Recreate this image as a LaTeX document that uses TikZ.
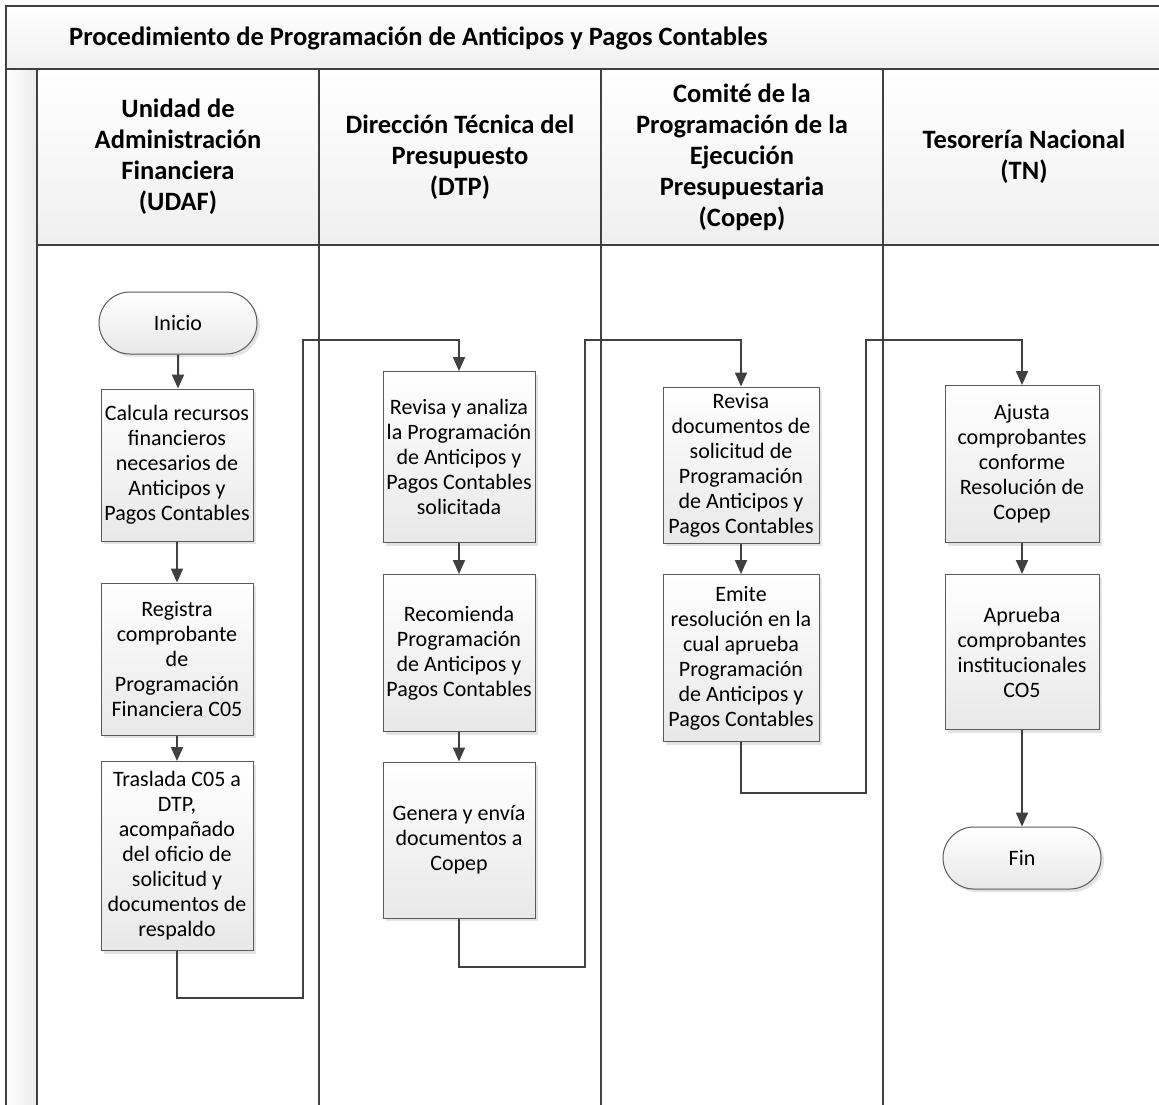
\documentclass[tikz,border=0pt]{standalone}
\usepackage{fontspec}
\setmainfont{Carlito}
\usetikzlibrary{arrows.meta,shapes.misc,shadows}

\definecolor{linegray}{HTML}{404040}
\definecolor{boxgray}{HTML}{5A5A5A}

\begin{document}
\begin{tikzpicture}
[x=1pt, y=-1pt,
 every node/.style={inner sep=0pt, align=center},
 step box/.style={rectangle, draw=boxgray, line width=1pt, top color=white, bottom color=black!9,
   drop shadow={shadow xshift=3pt, shadow yshift=-3pt, fill=black!18, opacity=.6},
   font=\fontsize{22}{25}\selectfont},
 endpoint/.style={rounded rectangle, draw=boxgray, line width=1pt, top color=white, bottom color=black!9,
   drop shadow={shadow xshift=3pt, shadow yshift=-3pt, fill=black!18, opacity=.6},
   minimum width=158pt, minimum height=62pt, font=\fontsize{22}{25}\selectfont},
 lanehead/.style={rectangle, draw=linegray, line width=1.2pt, top color=white, bottom color=black!6,
   minimum width=282pt, minimum height=176pt, font=\bfseries\fontsize{26.5}{31}\selectfont},
 lane/.style={draw=linegray, line width=1.2pt},
 flow/.style={draw=linegray, line width=2pt, -{Triangle[length=14pt, width=12pt]}}]
\useasboundingbox (0,0) rectangle (1159,1104);

% frame, title and lanes
\shade[top color=white, bottom color=black!6, draw=linegray, line width=1.2pt] (6,6) rectangle (1175,69);
\shade[left color=white, right color=black!8, draw=linegray, line width=1.2pt] (6,69) rectangle (37,1120);
\node (title) [anchor=west, font=\bfseries\fontsize{26.5}{31}\selectfont] at (69,38) {Procedimiento de Programación de Anticipos y Pagos Contables};
\node (udafh) [lanehead] at (178,157) {Unidad de\\Administración\\Financiera\\(UDAF)};
\node (dtph) [lanehead] at (460,157) {Dirección Técnica del\\Presupuesto\\(DTP)};
\node (copeph) [lanehead] at (742,157) {Comité de la\\Programación de la\\Ejecución\\Presupuestaria\\(Copep)};
\node (tnh) [lanehead] at (1024,157) {Tesorería Nacional\\(TN)};
\draw[lane] (37,245) -- (37,1120);
\draw[lane] (319,245) -- (319,1120);
\draw[lane] (601,245) -- (601,1120);
\draw[lane] (883,245) -- (883,1120);

% UDAF
\node (inicio) [endpoint] at (178,323) {Inicio};
\node (calcula) [step box, minimum width=152pt, minimum height=152pt] at (177,465) {Calcula recursos\\financieros\\necesarios de\\Anticipos y\\Pagos Contables};
\node (registra) [step box, minimum width=152pt, minimum height=152pt] at (177,659) {Registra\\comprobante\\de\\Programación\\Financiera C05};
\node (traslada) [step box, minimum width=152pt, minimum height=189pt] at (177,856) {Traslada C05 a\\DTP,\\acompañado\\del oficio de\\solicitud y\\documentos de\\respaldo};

% DTP
\node (revisa) [step box, minimum width=152pt, minimum height=171pt] at (459,457) {Revisa y analiza\\la Programación\\de Anticipos y\\Pagos Contables\\solicitada};
\node (recomienda) [step box, minimum width=152pt, minimum height=157pt] at (459,653) {Recomienda\\Programación\\de Anticipos y\\Pagos Contables};
\node (genera) [step box, minimum width=152pt, minimum height=156pt] at (459,840) {Genera y envía\\documentos a\\Copep};

% Copep
\node (revisadoc) [step box, minimum width=156pt, minimum height=156pt] at (741,465) {Revisa\\documentos de\\solicitud de\\Programación\\de Anticipos y\\Pagos Contables};
\node (emite) [step box, minimum width=156pt, minimum height=167pt] at (741,658) {Emite\\resolución en la\\cual aprueba\\Programación\\de Anticipos y\\Pagos Contables};

% TN
\node (ajusta) [step box, minimum width=154pt, minimum height=157pt] at (1022,464) {Ajusta\\comprobantes\\conforme\\Resolución de\\Copep};
\node (aprueba) [step box, minimum width=154pt, minimum height=155pt] at (1022,652) {Aprueba\\comprobantes\\institucionales\\CO5};
\node (fin) [endpoint] at (1022,858) {Fin};

% connectors
\draw[flow] (inicio) -- (inicio |- calcula.north);
\draw[flow] (calcula) -- (calcula.south |- registra.north);
\draw[flow] (registra) -- (registra.south |- traslada.north);
\draw[flow] (traslada.south) |- (303,998) -- (303,340) -| (revisa.north);
\draw[flow] (revisa) -- (recomienda);
\draw[flow] (recomienda) -- (genera);
\draw[flow] (genera.south) |- (585,967) -- (585,340) -| (revisadoc.north);
\draw[flow] (revisadoc) -- (emite);
\draw[flow] (emite.south) |- (866,793) -- (866,340) -| (ajusta.north);
\draw[flow] (ajusta) -- (aprueba);
\draw[flow] (aprueba) -- (fin);
\end{tikzpicture}
\end{document}
